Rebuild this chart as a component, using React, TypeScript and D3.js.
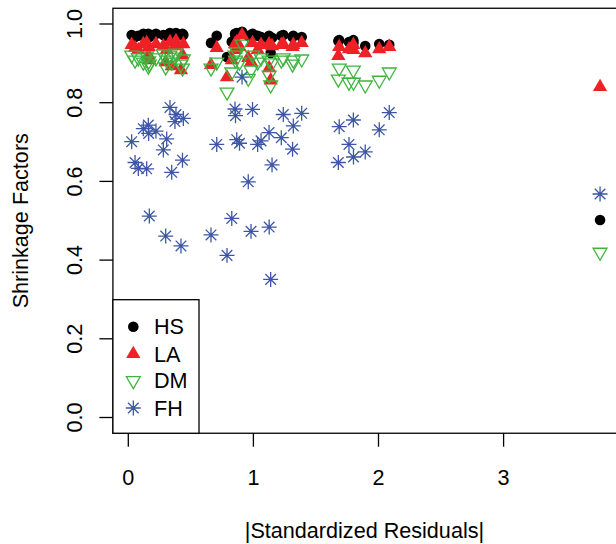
import React from "react";
import * as d3 from "d3";

// |Standardized residuals| for each study
const resid = [
  0.027, 0.054, 0.080, 0.120, 0.147, 0.160, 0.163, 0.168, 0.221, 0.280,
  0.299, 0.307, 0.333, 0.347, 0.373, 0.381, 0.421, 0.433, 0.440, 0.661,
  0.707, 0.789, 0.827, 0.853, 0.857, 0.867, 0.889, 0.909, 0.959, 0.981,
  0.993, 1.034, 1.061, 1.125, 1.126, 1.138, 1.149, 1.223, 1.239, 1.313,
  1.319, 1.386, 1.679, 1.686, 1.764, 1.799, 1.800, 1.894, 2.006, 2.086,
  3.771,
];

const hs = [
  0.972, 0.967, 0.970, 0.975, 0.972, 0.975, 0.970, 0.967, 0.975, 0.972,
  0.970, 0.972, 0.977, 0.970, 0.975, 0.977, 0.972, 0.975, 0.972, 0.952,
  0.970, 0.916, 0.955, 0.975, 0.972, 0.977, 0.975, 0.980, 0.970, 0.965,
  0.975, 0.970, 0.967, 0.970, 0.959, 0.926, 0.965, 0.970, 0.972, 0.967,
  0.970, 0.967, 0.957, 0.959, 0.954, 0.959, 0.952, 0.944, 0.949, 0.947,
  0.502,
];

const la = [
  0.947, 0.939, 0.934, 0.949, 0.952, 0.921, 0.942, 0.908, 0.949, 0.944,
  0.903, 0.934, 0.954, 0.893, 0.944, 0.957, 0.883, 0.921, 0.949, 0.896,
  0.939, 0.865, 0.908, 0.949, 0.934, 0.954, 0.942, 0.972, 0.914, 0.903,
  0.952, 0.934, 0.947, 0.949, 0.888, 0.857, 0.944, 0.947, 0.949, 0.942,
  0.947, 0.952, 0.919, 0.942, 0.936, 0.947, 0.934, 0.926, 0.936, 0.942,
  0.840,
];

const dm = [
  0.921, 0.908, 0.914, 0.903, 0.919, 0.893, 0.906, 0.898, 0.914, 0.924,
  0.891, 0.908, 0.921, 0.903, 0.916, 0.926, 0.898, 0.888, 0.911, 0.888,
  0.903, 0.827, 0.878, 0.921, 0.908, 0.929, 0.903, 0.949, 0.862, 0.883,
  0.921, 0.903, 0.914, 0.908, 0.870, 0.845, 0.901, 0.908, 0.914, 0.898,
  0.908, 0.911, 0.860, 0.888, 0.852, 0.883, 0.852, 0.845, 0.857, 0.878,
  0.420,
];

const fh = [
  0.701, 0.648, 0.633, 0.734, 0.632, 0.743, 0.722, 0.512, 0.728, 0.680,
  0.461, 0.708, 0.788, 0.623, 0.752, 0.770, 0.436, 0.654, 0.760, 0.464,
  0.694, 0.412, 0.506, 0.784, 0.767, 0.706, 0.697, 0.865, 0.599, 0.473,
  0.783, 0.694, 0.703, 0.724, 0.484, 0.351, 0.642, 0.711, 0.770, 0.682,
  0.741, 0.773, 0.648, 0.739, 0.694, 0.756, 0.662, 0.675, 0.731, 0.775,
  0.568,
];

const seriesNames = ["HS", "LA", "DM", "FH"];
const xTicks = [0, 1, 2, 3];
const yTicks = [0, 0.2, 0.4, 0.6, 0.8, 1.0];

const RED = "#ee2127";
const GREEN = "#3db53d";
const BLUE = "#3d56a6";
const R = 5.3;
const FS = 21.6;
const FONT = "'Liberation Sans', Arial, Helvetica, sans-serif";

function Marker({ kind, x, y }: { kind: string; x: number; y: number }) {
  if (kind === "HS") return <circle cx={x} cy={y} r={R} fill="#000" />;
  if (kind === "LA") {
    const r = 1.5551 * R;
    const h = (Math.sqrt(3) / 2) * r;
    return (
      <path
        d={`M${x},${y - r}L${x + h},${y + r / 2}L${x - h},${y + r / 2}Z`}
        fill={RED}
      />
    );
  }
  if (kind === "DM") {
    const r = 1.5551 * R * 0.97;
    const h = (Math.sqrt(3) / 2) * r;
    return (
      <path
        d={`M${x},${y + r}L${x + h},${y - r / 2}L${x - h},${y - r / 2}Z`}
        fill="none"
        stroke={GREEN}
        strokeWidth={1.3}
      />
    );
  }
  const a = Math.SQRT2 * R;
  const b = R;
  return (
    <path
      d={`M${x - a},${y}H${x + a}M${x},${y - a}V${y + a}M${x - b},${y - b}L${x + b},${y + b}M${x - b},${y + b}L${x + b},${y - b}`}
      stroke={BLUE}
      strokeWidth={1.3}
      fill="none"
    />
  );
}

export default function App() {
  const x = d3.scaleLinear().domain([0, 3]).range([128.3, 503.6]);
  const y = d3.scaleLinear().domain([0, 1]).range([417.5, 24]);

  const left = x(-0.123);
  const right = x(3.92);
  const top = y(1.04);
  const bottom = y(-0.04);

  const series = [
    { name: "HS", vals: hs },
    { name: "LA", vals: la },
    { name: "DM", vals: dm },
    { name: "FH", vals: fh },
  ];

  const legendTop = 299.7;
  const legendRight = 199;
  const legendRows = [326.7, 354, 380.7, 408];

  return (
    <svg
      width={616}
      height={544}
      style={{ position: "absolute", left: 0, top: 0, background: "#fff" }}
      fontFamily={FONT}
    >
      <rect x={0} y={0} width={616} height={544} fill="#fff" />
      <g>
        {series.map((s) =>
          s.vals.map((v, i) => (
            <Marker key={s.name + i} kind={s.name} x={x(resid[i])} y={y(v)} />
          ))
        )}
      </g>
      {/* plot box */}
      <rect
        x={left}
        y={top}
        width={right - left}
        height={bottom - top}
        fill="none"
        stroke="#000"
        strokeWidth={1.3}
      />
      {/* x axis */}
      {xTicks.map((t) => (
        <g key={"xt" + t}>
          <line x1={x(t)} x2={x(t)} y1={bottom} y2={bottom + 13.5} stroke="#000" strokeWidth={1.3} />
          <text x={x(t)} y={484.5} fontSize={FS} textAnchor="middle" fill="#000">
            {t}
          </text>
        </g>
      ))}
      <text x={(left + 616) / 2} y={537.5} fontSize={FS} textAnchor="middle" fill="#000">
        |Standardized Residuals|
      </text>
      {/* y axis */}
      {yTicks.map((t) => (
        <g key={"yt" + t}>
          <line x1={left - 13.5} x2={left} y1={y(t)} y2={y(t)} stroke="#000" strokeWidth={1.3} />
          <text
            transform={`translate(81.5,${y(t)}) rotate(-90)`}
            fontSize={FS}
            textAnchor="middle"
            fill="#000"
          >
            {t.toFixed(1)}
          </text>
        </g>
      ))}
      <text
        transform={`translate(28.3,${(top + bottom) / 2}) rotate(-90)`}
        fontSize={FS}
        textAnchor="middle"
        fill="#000"
      >
        Shrinkage Factors
      </text>
      {/* legend */}
      <rect
        x={left}
        y={legendTop}
        width={legendRight - left}
        height={bottom - legendTop}
        fill="#fff"
        stroke="#000"
        strokeWidth={1.3}
      />
      {seriesNames.map((n, i) => (
        <g key={"lg" + n}>
          <Marker kind={n} x={133.3} y={legendRows[i]} />
          <text x={154} y={legendRows[i] + 7.5} fontSize={FS} fill="#000">
            {n}
          </text>
        </g>
      ))}
    </svg>
  );
}
